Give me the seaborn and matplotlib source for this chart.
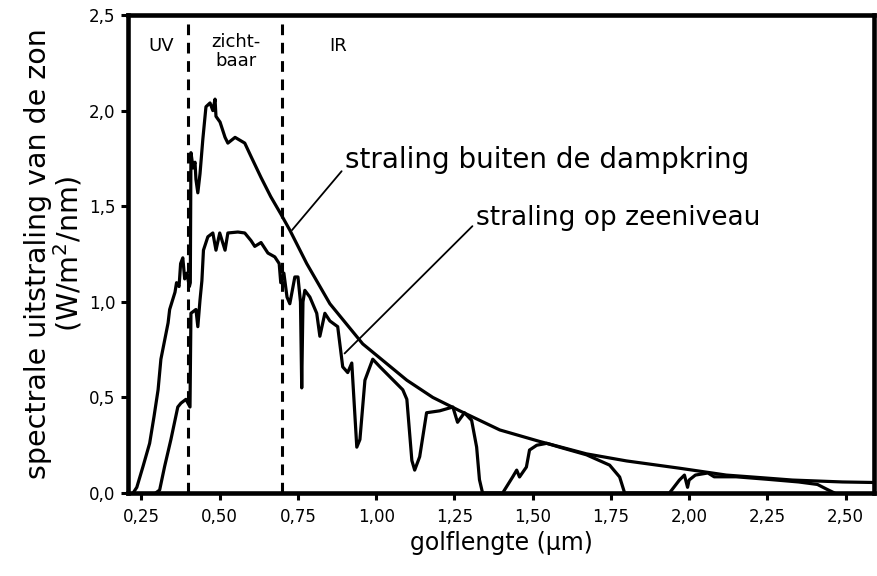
import matplotlib
matplotlib.use("Agg")
import matplotlib.pyplot as plt
import seaborn as sns
import pandas as pd

# ---- data ----
x_top = [0.223, 0.235, 0.255, 0.276, 0.290, 0.303, 0.312, 0.335, 0.340, 0.357,
         0.362, 0.370, 0.375, 0.382, 0.388, 0.395, 0.403, 0.406,
         0.408, 0.415, 0.421, 0.424, 0.430, 0.437, 0.446, 0.456, 0.469, 0.478,
         0.485, 0.488, 0.501, 0.517, 0.526, 0.549, 0.580, 0.600, 0.632, 0.663,
         0.695, 0.724, 0.778, 0.852, 0.957, 1.098, 1.181, 1.267, 1.331, 1.395,
         1.522, 1.672, 1.800, 1.969, 2.119, 2.234, 2.330, 2.490, 2.600]
y_top = [0.00, 0.03, 0.14, 0.26, 0.40, 0.54, 0.70, 0.89, 0.96, 1.05,
         1.10, 1.08, 1.20, 1.23, 1.12, 1.15, 1.08, 1.10,
         1.78, 1.70, 1.73, 1.64, 1.57, 1.67, 1.85, 2.02, 2.04, 2.00,
         2.06, 1.97, 1.94, 1.86, 1.83, 1.86, 1.83, 1.76, 1.65, 1.55,
         1.46, 1.375, 1.20, 0.99, 0.78, 0.59, 0.50, 0.43, 0.38, 0.33,
         0.27, 0.205, 0.168, 0.13, 0.094, 0.080, 0.068, 0.058, 0.055]

x_sea = [0.295, 0.308, 0.324, 0.344, 0.366, 0.376, 0.392, 0.405, 0.408, 0.424,
         0.430, 0.437, 0.443, 0.448, 0.462, 0.478, 0.488, 0.500, 0.517, 0.526,
         0.558, 0.580, 0.600, 0.612, 0.632, 0.654, 0.676, 0.690, 0.695, 0.705,
         0.715, 0.724, 0.740, 0.750, 0.758, 0.762, 0.766, 0.772, 0.788, 0.810,
         0.820, 0.836, 0.852, 0.877, 0.893, 0.909, 0.922, 0.938, 0.948, 0.964,
         0.973, 0.989, 1.012, 1.085, 1.098, 1.114, 1.123, 1.139, 1.161, 1.203,
         1.245, 1.260, 1.282, 1.305, 1.321, 1.330, 1.340, 1.404, 1.436, 1.449,
         1.458, 1.480, 1.490, 1.513, 1.545, 1.586, 1.672, 1.746, 1.778, 1.794,
         1.937, 1.969, 1.985, 1.995, 2.000, 2.020, 2.060, 2.080, 2.150, 2.250,
         2.350, 2.410, 2.440, 2.465]
y_sea = [0.00, 0.016, 0.14, 0.28, 0.45, 0.47, 0.49, 0.45, 0.94, 0.96,
         0.87, 1.01, 1.11, 1.27, 1.34, 1.36, 1.27, 1.36, 1.27, 1.36,
         1.365, 1.36, 1.32, 1.29, 1.31, 1.255, 1.235, 1.20, 1.10, 1.15,
         1.025, 0.99, 1.13, 1.13, 1.00, 0.55, 1.00, 1.06, 1.025, 0.94,
         0.82, 0.94, 0.90, 0.87, 0.66, 0.63, 0.68, 0.24, 0.28, 0.59,
         0.63, 0.70, 0.66, 0.54, 0.49, 0.17, 0.12, 0.19, 0.42, 0.43,
         0.45, 0.37, 0.42, 0.38, 0.24, 0.07, 0.00, 0.00, 0.084, 0.12,
         0.084, 0.136, 0.225, 0.25, 0.26, 0.24, 0.20, 0.146, 0.084, 0.00,
         0.00, 0.068, 0.094, 0.03, 0.068, 0.094, 0.105, 0.085, 0.085, 0.072,
         0.058, 0.045, 0.02, 0.00]

x_ticks = [0.25, 0.50, 0.75, 1.00, 1.25, 1.50, 1.75, 2.00, 2.25, 2.50]
x_ticklabels = ["0,25", "0,50", "0,75", "1,00", "1,25", "1,50", "1,75", "2,00", "2,25", "2,50"]
y_ticks = [0.0, 0.5, 1.0, 1.5, 2.0, 2.5]
y_ticklabels = ["0,0", "0,5", "1,0", "1,5", "2,0", "2,5"]

region_bounds = [0.40, 0.70]

df_top = pd.DataFrame({"x": x_top, "y": y_top})
df_sea = pd.DataFrame({"x": x_sea, "y": y_sea})

sns.set_style("white")
plt.rcParams.update({
    "font.family": ["DejaVu Sans"],
    "text.color": "black",
    "axes.labelcolor": "black",
    "xtick.bottom": True,
    "ytick.left": True,
    "xtick.direction": "out",
    "ytick.direction": "out",
    "xtick.major.size": 5,
    "ytick.major.size": 5,
    "xtick.major.width": 2.2,
    "ytick.major.width": 2.2,
    "xtick.color": "black",
    "ytick.color": "black",
})

fig = plt.figure(figsize=(8.77, 5.76), dpi=100)
ax = fig.add_axes([0.146, 0.144, 0.851, 0.830])

sns.lineplot(data=df_top, x="x", y="y", ax=ax, color="black", lw=2.3,
             sort=False, estimator=None)
sns.lineplot(data=df_sea, x="x", y="y", ax=ax, color="black", lw=2.3,
             sort=False, estimator=None)

for b in region_bounds:
    ax.axvline(b, color="black", lw=2.2, ls=(0, (3.5, 2.5)))

ax.set_xlim(0.207, 2.592)
ax.set_ylim(0, 2.5)
ax.set_xticks(x_ticks)
ax.set_xticklabels(x_ticklabels)
ax.set_yticks(y_ticks)
ax.set_yticklabels(y_ticklabels)
ax.tick_params(axis="both", which="major", labelsize=12, labelcolor="black")
ax.tick_params(axis="x", pad=6)
ax.tick_params(axis="y", pad=4)

for s in ax.spines.values():
    s.set_visible(True)
    s.set_linewidth(3.3)
    s.set_color("black")
    s.set_zorder(1)

ax.set_xlabel("golflengte (µm)", fontsize=17, labelpad=3, color="black")
ax.set_ylabel("spectrale uitstraling van de zon\n(W/m$^2$/nm)", fontsize=20.5,
              labelpad=3, linespacing=1.0, color="black")

ax.text(0.312, 2.34, "UV", ha="center", va="center", fontsize=13)
ax.text(0.552, 2.31, "zicht-\nbaar", ha="center", va="center", fontsize=13,
        linespacing=1.05)
ax.text(0.877, 2.34, "IR", ha="center", va="center", fontsize=13)

ax.annotate("straling buiten de dampkring", xy=(0.731, 1.375),
            xytext=(0.90, 1.74), fontsize=20, ha="left", va="center",
            arrowprops=dict(arrowstyle="-", color="black", lw=1.3,
                            shrinkA=0, shrinkB=0, relpos=(0, 0.25)))
ax.annotate("straling op zeeniveau", xy=(0.899, 0.73),
            xytext=(1.318, 1.44), fontsize=19, ha="left", va="center",
            arrowprops=dict(arrowstyle="-", color="black", lw=1.3,
                            shrinkA=0, shrinkB=0, relpos=(0, 0.3)))

fig.savefig("out.png", dpi=100)
